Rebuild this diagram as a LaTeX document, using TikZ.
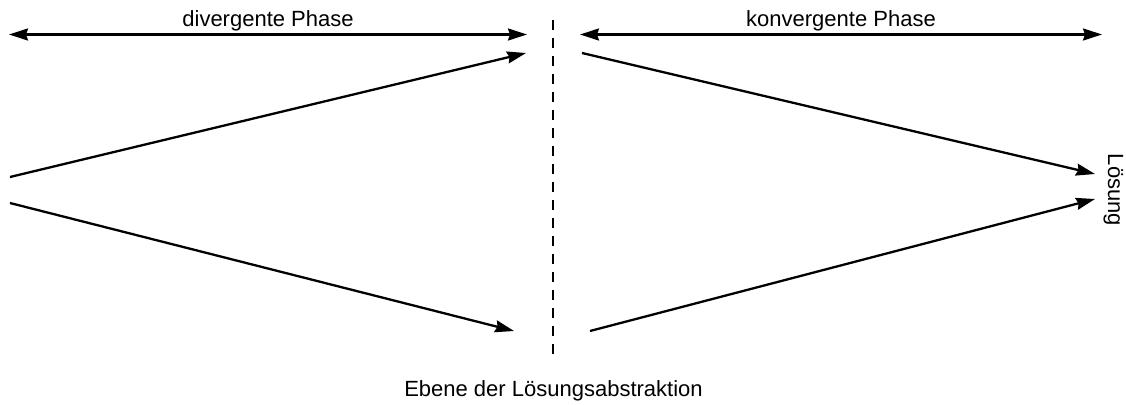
\documentclass[tikz,border=0pt]{standalone}
\usepackage{fontspec}
\setmainfont{Liberation Sans}
\usetikzlibrary{arrows.meta}
\begin{document}
\begin{tikzpicture}[x=1pt,y=-1pt,
  line/.style={line width=2.3pt},
  tip/.style={Stealth[length=19pt,width=12pt,inset=2pt]},
  arr/.style={line, -{Stealth[length=19pt,width=12pt,inset=2pt]}},
  darr/.style={line, {Stealth[length=19pt,width=12pt,inset=2pt]}-{Stealth[length=19pt,width=12pt,inset=2pt]}},
  lbl/.style={font=\fontsize{22}{26}\selectfont, inner sep=0pt}]
\useasboundingbox (0,0) rectangle (1126,404);
% coordinates
\coordinate (dl) at (9,34.5);
\coordinate (dr) at (527,34.5);
\coordinate (kl) at (580,34.5);
\coordinate (kr) at (1102,34.5);
\coordinate (vt) at (553,20);
\coordinate (vb) at (553,360);
\coordinate (s1) at (10,177);
\coordinate (e1) at (526,53);
\coordinate (s2) at (10,203);
\coordinate (e2) at (514,331);
\coordinate (s3) at (582,53);
\coordinate (e3) at (1095,174);
\coordinate (s4) at (590,331);
\coordinate (e4) at (1095,199);
% phases
\draw[darr] (dl) -- (dr);
\draw[darr] (kl) -- (kr);
\node[lbl, anchor=base] (dp) at (268,26.5) {divergente Phase};
\node[lbl, anchor=base] (kp) at (841,26.5) {konvergente Phase};
% abstraction plane
\draw[line, dash pattern=on 10pt off 8pt] (vt) -- (vb);
% arrows
\draw[arr] (s1) -- (e1);
\draw[arr] (s2) -- (e2);
\draw[arr] (s3) -- (e3);
\draw[arr] (s4) -- (e4);
% labels
\node[lbl, rotate=-90] (loes) at (1113.5,190) {Lösung};
\node[lbl, anchor=base] (ebene) at (553.5,396) {Ebene der Lösungsabstraktion};
\end{tikzpicture}
\end{document}
